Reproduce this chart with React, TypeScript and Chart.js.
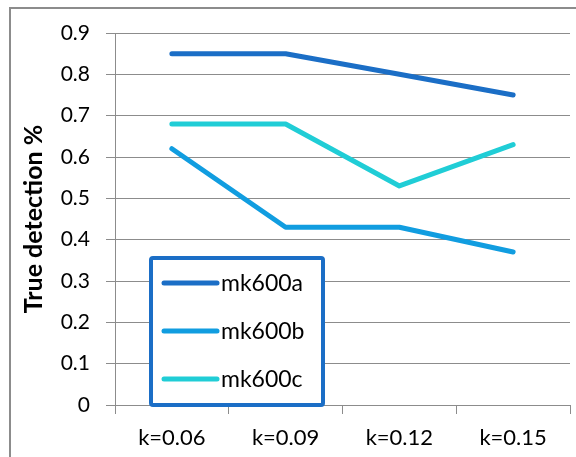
import React, { useEffect, useRef } from "react";
import { Chart, registerables } from "chart.js";

Chart.register(...registerables);

const categories = ["k=0.06", "k=0.09", "k=0.12", "k=0.15"];
const mk600a = [0.85, 0.85, 0.8, 0.75];
const mk600b = [0.62, 0.43, 0.43, 0.37];
const mk600c = [0.68, 0.68, 0.53, 0.63];
const seriesNames = ["mk600a", "mk600b", "mk600c"];
const seriesColors = ["#1b6ec6", "#119de0", "#20cdd6"];
const yTitle = "True detection %";

const FONT = "Lato, 'Open Sans', sans-serif";

const legendPlugin = {
  id: "boxLegend",
  afterDraw(chart: any) {
    const ctx = chart.ctx;
    const x0 = 151, y0 = 258, w = 172, h = 147;
    ctx.save();
    ctx.fillStyle = "#ffffff";
    ctx.strokeStyle = "#1b6ec6";
    ctx.lineWidth = 4;
    ctx.beginPath();
    if (ctx.roundRect) ctx.roundRect(x0, y0, w, h, 2);
    else ctx.rect(x0, y0, w, h);
    ctx.fill();
    ctx.stroke();
    chart.data.datasets.forEach((ds: any, i: number) => {
      const y = 283 + i * 48;
      ctx.strokeStyle = ds.borderColor;
      ctx.lineWidth = 5;
      ctx.lineCap = "round";
      ctx.beginPath();
      ctx.moveTo(164, y);
      ctx.lineTo(217, y);
      ctx.stroke();
      ctx.fillStyle = "#000000";
      ctx.font = `23px ${FONT}`;
      ctx.textBaseline = "middle";
      ctx.textAlign = "left";
      ctx.fillText(ds.label, 221, y + 1);
    });
    ctx.restore();
  },
};

export default function App() {
  const ref = useRef<HTMLCanvasElement>(null);
  useEffect(() => {
    const values = [mk600a, mk600b, mk600c];
    const chart = new Chart(ref.current!, {
      type: "line",
      data: {
        labels: categories,
        datasets: seriesNames.map((name, i) => ({
          label: name,
          data: values[i],
          borderColor: seriesColors[i],
          backgroundColor: seriesColors[i],
          borderWidth: 5,
          borderCapStyle: "round",
          borderJoinStyle: "round",
          pointRadius: 0,
          tension: 0,
        })),
      },
      options: {
        responsive: false,
        animation: false,
        layout: { padding: { left: 0, top: 33, right: 6, bottom: 0 } },
        plugins: { legend: { display: false }, tooltip: { enabled: false } },
        scales: {
          x: {
            offset: true,
            grid: {
              offset: true,
              drawOnChartArea: false,
              drawTicks: true,
              tickLength: 9,
              color: "#8c8c8c",
              lineWidth: 1,
            },
            border: { color: "#8c8c8c", width: 1 },
            ticks: {
              color: "#000",
              font: { family: FONT, size: 22 },
              padding: 11,
              maxRotation: 0,
            },
            afterFit(scale: any) {
              scale.height = 52;
            },
          },
          y: {
            min: 0,
            max: 0.9,
            ticks: {
              stepSize: 0.1,
              color: "#000",
              font: { family: FONT, size: 21 },
              padding: 16,
              callback: (v: any) => (Math.round(Number(v) * 10) / 10).toString(),
            },
            grid: { color: "#8c8c8c", lineWidth: 1, tickLength: 9 },
            border: { color: "#8c8c8c", width: 1 },
            title: {
              display: true,
              text: yTitle,
              color: "#000",
              font: { family: FONT, size: 25, weight: "bold" },
              padding: { top: 19, bottom: 0 },
            },
            afterFit(scale: any) {
              scale.width = 115;
            },
          },
        },
      },
      plugins: [legendPlugin],
    } as any);
    return () => chart.destroy();
  }, []);
  return (
    <div style={{ position: "absolute", left: 0, top: 0, width: 576, height: 457, background: "#fff", overflow: "hidden" }}>
      <div
        style={{
          position: "absolute",
          left: 9,
          top: 7,
          width: 600,
          height: 500,
          borderLeft: "2px solid #8c8c8c",
          borderTop: "2px solid #8c8c8c",
        }}
      />
      <canvas ref={ref} width={576} height={457} style={{ position: "absolute", left: 0, top: 0 }} />
    </div>
  );
}
